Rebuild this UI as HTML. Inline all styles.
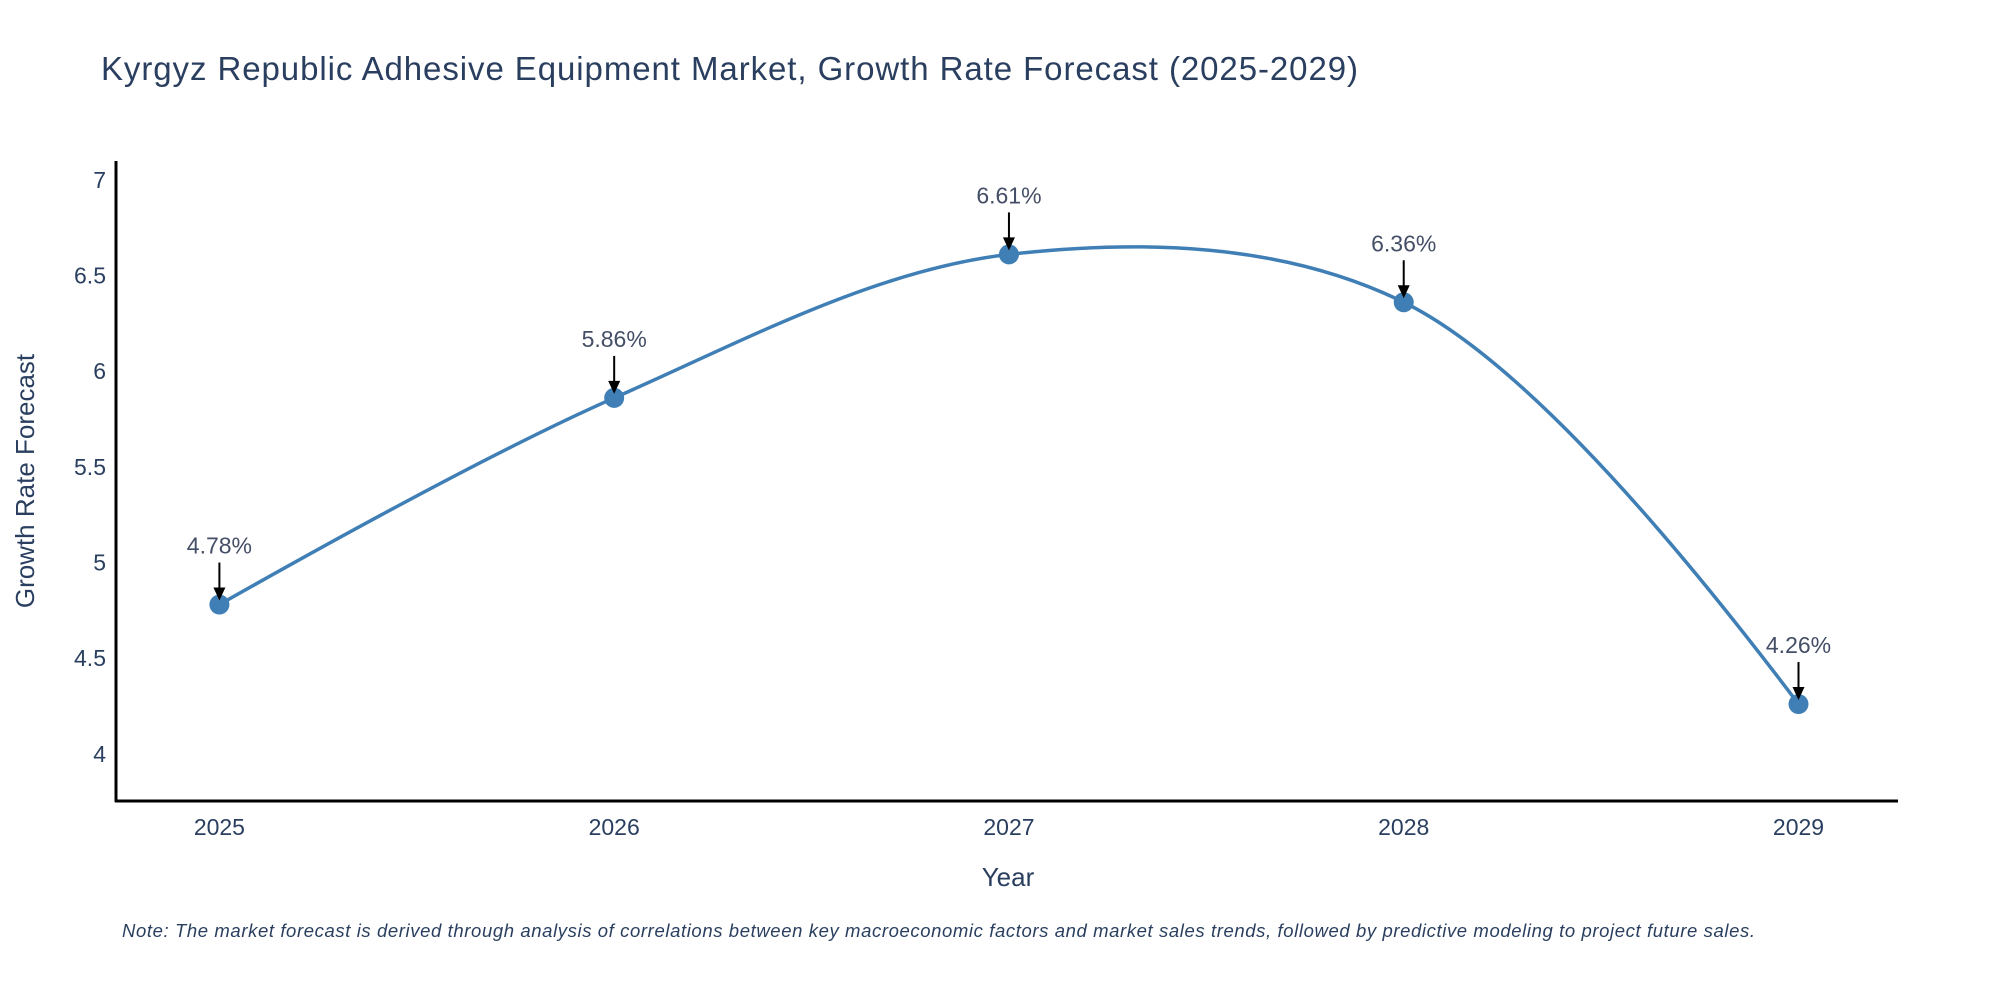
<!DOCTYPE html>
<html><head><meta charset="utf-8"><style>
html,body{margin:0;padding:0;background:#fff;}
svg{display:block;font-family:"Liberation Sans",sans-serif;}
</style></head><body>
<svg id="chart" width="2000" height="1000">
<text x="101" y="80" font-size="33" fill="#2a3f5f" textLength="1257">Kyrgyz Republic Adhesive Equipment Market, Growth Rate Forecast (2025-2029)</text>
<g id="yticks"></g>
<g id="xticks"></g>
<line x1="116" y1="161" x2="116" y2="802" stroke="#000" stroke-width="3"/>
<line x1="115" y1="801" x2="1898" y2="801" stroke="#000" stroke-width="3"/>
<path id="line" fill="none" stroke="#3f7fb5" stroke-width="3.5"/>
<g id="points"></g>
<g id="annots"></g>
<text transform="translate(34,481) rotate(-90)" text-anchor="middle" font-size="26" fill="#2a3f5f">Growth Rate Forecast</text>
<text x="1008" y="886" text-anchor="middle" font-size="26" fill="#2a3f5f">Year</text>
<text x="122" y="937" font-size="18.5" font-style="italic" fill="#2a3f5f" textLength="1633">Note: The market forecast is derived through analysis of correlations between key macroeconomic factors and market sales trends, followed by predictive modeling to project future sales.</text>
</svg>
<script>
const years = ["2025","2026","2027","2028","2029"];
const values = [4.78, 5.86, 6.61, 6.36, 4.26];
const yTicks = [4, 4.5, 5, 5.5, 6, 6.5, 7];
const yTickLabels = ["4","4.5","5","5.5","6","6.5","7"];

const NS = "http://www.w3.org/2000/svg";
function xs(i){ return 219.4 + i * (1798.5 - 219.4) / (years.length - 1); }
function ys(v){ return 753.8 - (v - 4) * (753.8 - 179.8) / 3; }
function mk(tag, attrs, parent){ const e=document.createElementNS(NS,tag); for(const k in attrs) e.setAttribute(k,attrs[k]); parent.appendChild(e); return e; }

const yg=document.getElementById('yticks');
yTicks.forEach((t,i)=>{
  const e=mk('text',{x:106,y:ys(t)+8,'text-anchor':'end','font-size':23,fill:'#2a3f5f'},yg);
  
  
  e.textContent=yTickLabels[i];
});
const xg=document.getElementById('xticks');
years.forEach((y,i)=>{
  const e=mk('text',{x:xs(i),y:835,'text-anchor':'middle','font-size':23,fill:'#2a3f5f'},xg);
  
  
  e.textContent=y;
});

const P=values.map((v,i)=>[xs(i),ys(v)]);
function tangent(a,b,c,s){
  const d1x=a[0]-b[0],d1y=a[1]-b[1],d2x=c[0]-b[0],d2y=c[1]-b[1];
  const d1a=Math.pow(d1x*d1x+d1y*d1y,0.25),d2a=Math.pow(d2x*d2x+d2y*d2y,0.25);
  const nx=(d2a*d2a*d1x-d1a*d1a*d2x)*s,ny=(d2a*d2a*d1y-d1a*d1a*d2y)*s;
  const den1=3*d2a*(d1a+d2a),den2=3*d1a*(d1a+d2a);
  return [[b[0]+nx/den1,b[1]+ny/den1],[b[0]-nx/den2,b[1]-ny/den2]];
}
const T=[];
for(let i=1;i<P.length-1;i++) T.push(tangent(P[i-1],P[i],P[i+1],1));
let d='M'+P[0]+'Q'+T[0][0]+' '+P[1];
for(let i=2;i<P.length-1;i++) d+='C'+T[i-2][1]+' '+T[i-1][0]+' '+P[i];
d+='Q'+T[P.length-3][1]+' '+P[P.length-1];
document.getElementById('line').setAttribute('d',d);

const pg=document.getElementById('points'), ag=document.getElementById('annots');
values.forEach((v,i)=>{
  const x=xs(i), y=ys(v);
  const c=mk('circle',{cx:x,cy:y,r:10,fill:'#3f7fb5'},pg);
  
  
  const l=mk('line',{x1:x,y1:y-42,x2:x,y2:y-14,stroke:'#000','stroke-width':2},ag);
  
  
  const a=mk('path',{d:`M${x-6},${y-17} L${x+6},${y-17} L${x},${y-4} Z`,fill:'#000'},ag);
  
  
  const t=mk('text',{x:x,y:y-51,'text-anchor':'middle','font-size':23,fill:'#444e66'},ag);
  
  
  t.textContent=v.toFixed(2)+'%';
});
</script>
</body></html>
